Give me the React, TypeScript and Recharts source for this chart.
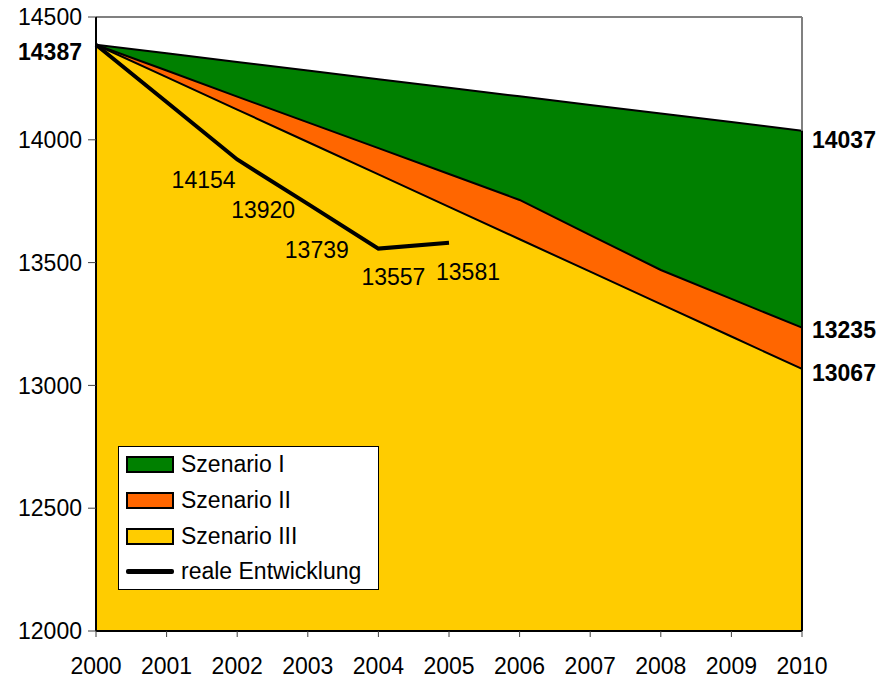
import React from "react";
import {
  ComposedChart,
  Area,
  Line,
  XAxis,
  YAxis,
  ReferenceLine,
  LabelList,
  Legend,
} from "recharts";

const years = [2000, 2001, 2002, 2003, 2004, 2005, 2006, 2007, 2008, 2009, 2010];
const szenario1 = [14387, 14352, 14317, 14282, 14247, 14212, 14177, 14142, 14107, 14072, 14037];
const szenario2 = [14387, 14282, 14176, 14071, 13966, 13861, 13755, 13612, 13470, 13352, 13235];
const szenario3 = [14387, 14255, 14123, 13991, 13859, 13727, 13595, 13463, 13331, 13199, 13067];
const real = [14387, 14154, 13920, 13739, 13557, 13581];
const yTicks = [12000, 12500, 13000, 13500, 14000, 14500];

const data = years.map((year, i) => ({
  year,
  s1: szenario1[i],
  s2: szenario2[i],
  s3: szenario3[i],
  real: i < real.length ? real[i] : null,
}));

const FONT = "'Liberation Sans', Arial, sans-serif";
const FS = 23;

// label nudges, Excel put these a bit below/right of the points
const realOffsets = [null, [37, 78], [26, 51], [9, 46], [15, 28], [19, 29]];

const renderRealLabel = (props: any) => {
  const { x, y, index, value } = props;
  const off = realOffsets[index];
  if (!off || value == null) return null;
  return (
    <text
      x={x + off[0]}
      y={y + off[1]}
      textAnchor="middle"
      dominantBaseline="central"
      fontSize={FS}
      fontFamily={FONT}
      fill="#000"
    >
      {value}
    </text>
  );
};

// bold value at the ends of the areas
const endLabel = (showIdx: number[], dy: number[]) => (props: any) => {
  const { x, y, index, value } = props;
  const k = showIdx.indexOf(index);
  if (k < 0) return null;
  const left = index === 0;
  return (
    <text
      x={left ? x - 14 : x + 10}
      y={y + dy[k]}
      textAnchor={left ? "end" : "start"}
      dominantBaseline="central"
      fontSize={FS}
      fontWeight="bold"
      fontFamily={FONT}
      fill="#000"
    >
      {value}
    </text>
  );
};

const legendItems = [
  { name: "Szenario I", color: "#008000", type: "area" },
  { name: "Szenario II", color: "#FF6600", type: "area" },
  { name: "Szenario III", color: "#FFCC00", type: "area" },
  { name: "reale Entwicklung", color: "#000", type: "line" },
];

const ChartLegend = () => (
  <div
    style={{
      width: 259,
      height: 142,
      border: "1px solid #000",
      background: "#fff",
      boxSizing: "content-box",
      paddingTop: 0,
    }}
  >
    {legendItems.map((it) => (
      <div
        key={it.name}
        style={{ display: "flex", alignItems: "center", height: 35.7, paddingLeft: 7 }}
      >
        {it.type === "area" ? (
          <div
            style={{
              width: 44,
              height: 13,
              background: it.color,
              border: "2px solid #000",
              flexShrink: 0,
            }}
          />
        ) : (
          <div
            style={{ width: 48, height: 5, background: "#000", borderRadius: 2, flexShrink: 0 }}
          />
        )}
        <span
          style={{
            marginLeft: 7,
            fontSize: FS,
            fontFamily: FONT,
            color: "#000",
            whiteSpace: "nowrap",
          }}
        >
          {it.name}
        </span>
      </div>
    ))}
  </div>
);

export default function App() {
  return (
    <div
      style={{
        position: "absolute",
        left: 0,
        top: 0,
        width: 881,
        height: 680,
        background: "#fff",
        fontFamily: FONT,
      }}
    >
      <ComposedChart
        width={881}
        height={680}
        data={data}
        margin={{ top: 17, right: 79, left: 0, bottom: 0 }}
      >
        <XAxis
          dataKey="year"
          type="number"
          domain={[2000, 2010]}
          ticks={years}
          interval={0}
          height={49}
          tickSize={6}
          tickMargin={21}
          axisLine={{ stroke: "#000", strokeWidth: 2 }}
          tickLine={{ stroke: "#404040" }}
          tick={{ fill: "#000", fontSize: FS, fontFamily: FONT }}
        />
        <YAxis
          type="number"
          domain={[12000, 14500]}
          ticks={yTicks}
          interval={0}
          width={96}
          tickSize={8}
          tickMargin={6}
          axisLine={{ stroke: "#000", strokeWidth: 2 }}
          tickLine={{ stroke: "#404040" }}
          tick={{ fill: "#000", fontSize: FS, fontFamily: FONT }}
        />
        <ReferenceLine y={14500} stroke="#808080" strokeWidth={2} />
        <ReferenceLine x={2010} stroke="#808080" strokeWidth={2} />
        <Area
          type="linear"
          dataKey="s1"
          name="Szenario I"
          fill="#008000"
          fillOpacity={1}
          stroke="#000"
          strokeWidth={2}
          dot={false}
          activeDot={false}
          isAnimationActive={false}
        >
          <LabelList dataKey="s1" content={endLabel([10], [9])} />
        </Area>
        <Area
          type="linear"
          dataKey="s2"
          name="Szenario II"
          fill="#FF6600"
          fillOpacity={1}
          stroke="#000"
          strokeWidth={2}
          dot={false}
          activeDot={false}
          isAnimationActive={false}
        >
          <LabelList dataKey="s2" content={endLabel([10], [2])} />
        </Area>
        <Area
          type="linear"
          dataKey="s3"
          name="Szenario III"
          fill="#FFCC00"
          fillOpacity={1}
          stroke="#000"
          strokeWidth={2}
          dot={false}
          activeDot={false}
          isAnimationActive={false}
        >
          <LabelList dataKey="s3" content={endLabel([0, 10], [7, 4])} />
        </Area>
        <ReferenceLine
          segment={[
            { x: 2010, y: 12000 },
            { x: 2010, y: szenario1[10] },
          ]}
          stroke="#000"
          strokeWidth={2}
        />
        <Line
          type="linear"
          dataKey="real"
          name="reale Entwicklung"
          stroke="#000"
          strokeWidth={4}
          dot={false}
          activeDot={false}
          connectNulls={false}
          isAnimationActive={false}
        >
          <LabelList dataKey="real" content={renderRealLabel} />
        </Line>
        <Legend
          layout="horizontal"
          verticalAlign="middle"
          align="center"
          content={() => <ChartLegend />}
          wrapperStyle={{ position: "absolute", left: 118, top: 446, width: 261, height: 144 }}
        />
      </ComposedChart>
    </div>
  );
}
